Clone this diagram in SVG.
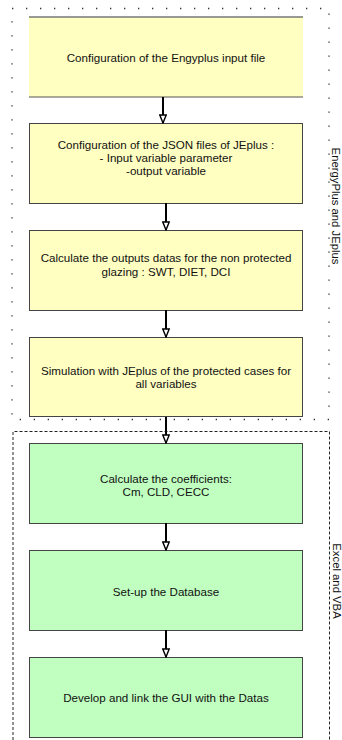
<svg xmlns="http://www.w3.org/2000/svg" width="342" height="740" viewBox="0 0 342 740">
<style>
.y{fill:#ffffc2;stroke:#444;stroke-width:1}
.g{fill:#c0ffc0;stroke:#444;stroke-width:1}
.t{font-family:"Liberation Sans",Arial,sans-serif;font-size:11.6px;fill:#111;text-anchor:middle;dominant-baseline:central}
.s{font-family:"Liberation Sans",Arial,sans-serif;font-size:11.3px;fill:#111;text-anchor:middle;dominant-baseline:central}
.dot{fill:none;stroke:#333;stroke-width:1.3;stroke-dasharray:1.3 12.7}
.dash{fill:none;stroke:#222;stroke-width:1;stroke-dasharray:3 2}
.c{stroke:#000;stroke-width:2;fill:none}
</style>
<defs>
<marker id="ah" markerWidth="10" markerHeight="8" refX="9" refY="4" orient="auto" markerUnits="userSpaceOnUse" viewBox="0 0 10 8">
<path d="M1,0.8 L9,4 L1,7.2 Z" fill="#fff" stroke="#000" stroke-width="1.4"/>
</marker>
</defs>
<g id="group-energyplus">
<rect x="12" y="8.5" width="317" height="411" class="dot"/>
<text class="s" transform="translate(336,206) rotate(90)">EnergyPlus and JEplus</text>
</g>
<g id="group-excel">
<path d="M13,740 L13,431.5 L329.5,431.5 L329.5,740" class="dash"/>
<text class="s" transform="translate(337,581) rotate(90)">Excel and VBA</text>
</g>
<g id="n1">
<rect x="29" y="17" width="274" height="80" fill="#ffffc2"/>
<line x1="29" y1="17" x2="303" y2="17" stroke="#777" stroke-width="1.5"/>
<line x1="29" y1="97" x2="303" y2="97" stroke="#555" stroke-width="1"/>
<text class="t" x="166" y="57">Configuration of the Engyplus input file</text>
</g>
<g id="n2">
<rect x="29.5" y="123.5" width="273" height="80" class="y"/>
<text class="t" x="166" y="144">Configuration of the JSON files of JEplus :</text>
<text class="t" x="166" y="157">- Input variable parameter</text>
<text class="t" x="166" y="170">-output variable</text>
</g>
<g id="n3">
<rect x="29.5" y="230.5" width="273" height="80" class="y"/>
<text class="t" x="166" y="257">Calculate the outputs datas for the non protected</text>
<text class="t" x="166" y="271">glazing : SWT, DIET, DCI</text>
</g>
<g id="n4">
<rect x="29.5" y="337.5" width="273" height="79" class="y"/>
<text class="t" x="166" y="370">Simulation with JEplus of the protected cases for</text>
<text class="t" x="166" y="383">all variables</text>
</g>
<g id="n5">
<rect x="29.5" y="443.5" width="273" height="80" class="g"/>
<text class="t" x="166" y="478">Calculate the coefficients:</text>
<text class="t" x="166" y="491">Cm, CLD, CECC</text>
</g>
<g id="n6">
<rect x="29.5" y="550.5" width="273" height="80" class="g"/>
<text class="t" x="166" y="591">Set-up the Database</text>
</g>
<g id="n7">
<rect x="29.5" y="657.5" width="273" height="80" class="g"/>
<text class="t" x="166" y="697">Develop and link the GUI with the Datas</text>
</g>
<g id="connectors">
<line x1="163" y1="97" x2="163" y2="123" class="c" marker-end="url(#ah)"/>
<line x1="166" y1="203" x2="166" y2="230" class="c" marker-end="url(#ah)"/>
<line x1="166" y1="310" x2="166" y2="337" class="c" marker-end="url(#ah)"/>
<line x1="166" y1="417" x2="166" y2="443" class="c" marker-end="url(#ah)"/>
<line x1="166" y1="523" x2="166" y2="550" class="c" marker-end="url(#ah)"/>
<line x1="166" y1="630" x2="166" y2="657" class="c" marker-end="url(#ah)"/>
</g>
</svg>
